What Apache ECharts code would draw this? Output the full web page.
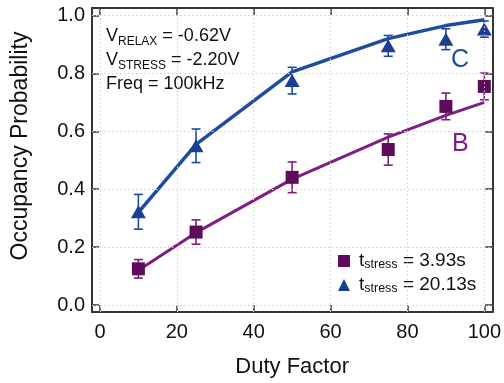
<!DOCTYPE html>
<html>
<head>
<meta charset="utf-8">
<script src="https://cdn.jsdelivr.net/npm/echarts@6/dist/echarts.min.js"></script>
<style>
  html, body { margin: 0; padding: 0; background: #fff; }
  #chart { width: 504px; height: 383px; }
</style>
</head>
<body>
<div id="chart"></div>
<script>
// Duty factor (%) at which occupancy was measured
const dutyFactor = [10, 25, 50, 75, 90, 100];

// Trap B (t_stress = 3.93 s): measured occupancy, error, model fit
const measuredB = [0.125, 0.252, 0.441, 0.537, 0.686, 0.755];
const errorB    = [0.032, 0.042, 0.053, 0.054, 0.046, 0.046];
const fitB      = [0.12, 0.25, 0.435, 0.58, 0.655, 0.70];

// Trap C (t_stress = 20.13 s): measured occupancy, error, model fit
const measuredC = [0.322, 0.55, 0.775, 0.895, 0.918, 0.953];
const errorC    = [0.06, 0.058, 0.046, 0.036, 0.036, 0.028];
const fitC      = [0.32, 0.555, 0.805, 0.92, 0.965, 0.985];

// Tick values
const xTicks = [0, 20, 40, 60, 80, 100];
const yTicks = [0, 0.2, 0.4, 0.6, 0.8, 1.0];

const colorB = '#5c0c5a';
const lineB = '#7e1d83';
const colorC = '#1b3e92';
const lineC = '#1e4c9f';
const frameColor = '#363636';
const font = 'Liberation Sans, Arial, sans-serif';

const pairs = (ys) => dutyFactor.map((x, i) => [x, ys[i]]);
const bars = (m, e) => dutyFactor.map((x, i) => [x, m[i] - e[i], m[i] + e[i]]);

function errorBarRenderer(color) {
  return function (params, api) {
    const x = api.value(0);
    const lo = api.coord([x, api.value(1)]);
    const hi = api.coord([x, api.value(2)]);
    const cap = 4.5;
    const st = { stroke: color, lineWidth: 1.6, fill: null };
    return {
      type: 'group',
      children: [
        { type: 'line', shape: { x1: hi[0], y1: hi[1], x2: lo[0], y2: lo[1] }, style: st },
        { type: 'line', shape: { x1: hi[0] - cap, y1: hi[1], x2: hi[0] + cap, y2: hi[1] }, style: st },
        { type: 'line', shape: { x1: lo[0] - cap, y1: lo[1], x2: lo[0] + cap, y2: lo[1] }, style: st }
      ]
    };
  };
}

const frameLine = { show: true, onZero: false, lineStyle: { color: frameColor, width: 2 } };
const tickStyle = (vals) => ({ show: true, inside: true, length: 7, customValues: vals,
  lineStyle: { color: frameColor, width: 1.5 } });

const xRange = { min: -2.07, max: 102.07 };
const yRange = { min: -0.0241, max: 1.0258 };

const chart = echarts.init(document.getElementById('chart'), null, { renderer: 'canvas' });
chart.setOption({
  animation: false,
  backgroundColor: '#fff',
  textStyle: { fontFamily: font },
  grid: { left: 92, top: 8, right: 10, bottom: 70, containLabel: false },
  xAxis: [
    Object.assign({
      type: 'value', position: 'bottom',
      axisLine: frameLine, axisTick: tickStyle(xTicks),
      axisLabel: { customValues: xTicks, fontSize: 20, color: '#111', margin: 10, fontFamily: font },
      splitLine: { show: false },
      name: 'Duty Factor', nameLocation: 'middle', nameGap: 44,
      nameTextStyle: { fontSize: 22, color: '#111', fontFamily: font }
    }, xRange),
    Object.assign({
      type: 'value', position: 'top',
      axisLine: frameLine, axisTick: tickStyle(xTicks),
      axisLabel: { show: false }, splitLine: { show: false }
    }, xRange)
  ],
  yAxis: [
    Object.assign({
      type: 'value', position: 'left',
      axisLine: frameLine, axisTick: tickStyle(yTicks),
      axisLabel: { customValues: yTicks, fontSize: 20, color: '#111', margin: 7, fontFamily: font,
        formatter: (v) => v.toFixed(1) },
      splitLine: { show: false },
      name: 'Occupancy Probability', nameLocation: 'middle', nameGap: 60, nameRotate: 90,
      nameTextStyle: { fontSize: 23, color: '#111', fontFamily: font, padding: [0, 0, 0, 28] }
    }, yRange),
    Object.assign({
      type: 'value', position: 'right',
      axisLine: frameLine, axisTick: tickStyle(yTicks),
      axisLabel: { show: false }, splitLine: { show: false }
    }, yRange)
  ],
  legend: {
    orient: 'vertical', left: 333, top: 246,
    itemWidth: 12, itemHeight: 12, itemGap: 4,
    data: [{ name: 'B', icon: 'rect' }, { name: 'C', icon: 'triangle' }],
    formatter: (n) => n === 'B' ? 't{s|stress} = 3.93s' : 't{s|stress} = 20.13s',
    textStyle: {
      fontSize: 19, color: '#111', fontFamily: font, padding: [0, 0, 0, 4], lineHeight: 18,
      rich: { s: { fontSize: 12.5, fontFamily: font, color: '#111', lineHeight: 10, padding: [7, 0, 0, 0] } }
    }
  },
  graphic: [
    {
      type: 'text', left: 106, top: 24, silent: true,
      style: {
        text: 'V{s|RELAX} = -0.62V\nV{s|STRESS} = -2.20V\nFreq = 100kHz',
        fontSize: 18, fontFamily: font, fill: '#111', lineHeight: 24,
        rich: { s: { fontSize: 12, fontFamily: font, fill: '#111', lineHeight: 11, padding: [12, 0, 0, 0] } }
      }
    },
    { type: 'text', left: 451, top: 48, silent: true,
      style: { text: 'C', fontSize: 25, fontFamily: font, fill: lineC } },
    { type: 'text', left: 452, top: 132, silent: true,
      style: { text: 'B', fontSize: 25, fontFamily: font, fill: lineB } }
  ],
  series: [
    {
      // dotted reference grid at each tick value
      type: 'line', name: 'grid', data: [], silent: true, z: 1,
      markLine: {
        silent: true, symbol: 'none', label: { show: false },
        lineStyle: { type: [1.5, 2.5], color: '#cfcfcf', width: 1 },
        emphasis: { disabled: true },
        data: xTicks.map((v) => ({ xAxis: v })).concat(yTicks.map((v) => ({ yAxis: v })))
      }
    },
    { type: 'line', name: 'B fit', data: pairs(fitB), showSymbol: false, symbol: 'none', z: 2,
      lineStyle: { color: lineB, width: 3 }, silent: true },
    { type: 'line', name: 'C fit', data: pairs(fitC), showSymbol: false, symbol: 'none', z: 2,
      lineStyle: { color: lineC, width: 3.5 }, silent: true },
    { type: 'custom', name: 'B err', data: bars(measuredB, errorB), z: 3,
      renderItem: errorBarRenderer(lineB), encode: { x: 0, y: [1, 2] }, silent: true },
    { type: 'custom', name: 'C err', data: bars(measuredC, errorC), z: 3,
      renderItem: errorBarRenderer(lineC), encode: { x: 0, y: [1, 2] }, silent: true },
    { type: 'scatter', name: 'B', data: pairs(measuredB), symbol: 'rect', symbolSize: 13, z: 4,
      itemStyle: { color: colorB, opacity: 1 } },
    { type: 'scatter', name: 'C', data: pairs(measuredC), symbol: 'triangle', symbolSize: [15, 13], z: 4,
      itemStyle: { color: colorC, opacity: 1 } }
  ]
});
</script>
</body>
</html>
